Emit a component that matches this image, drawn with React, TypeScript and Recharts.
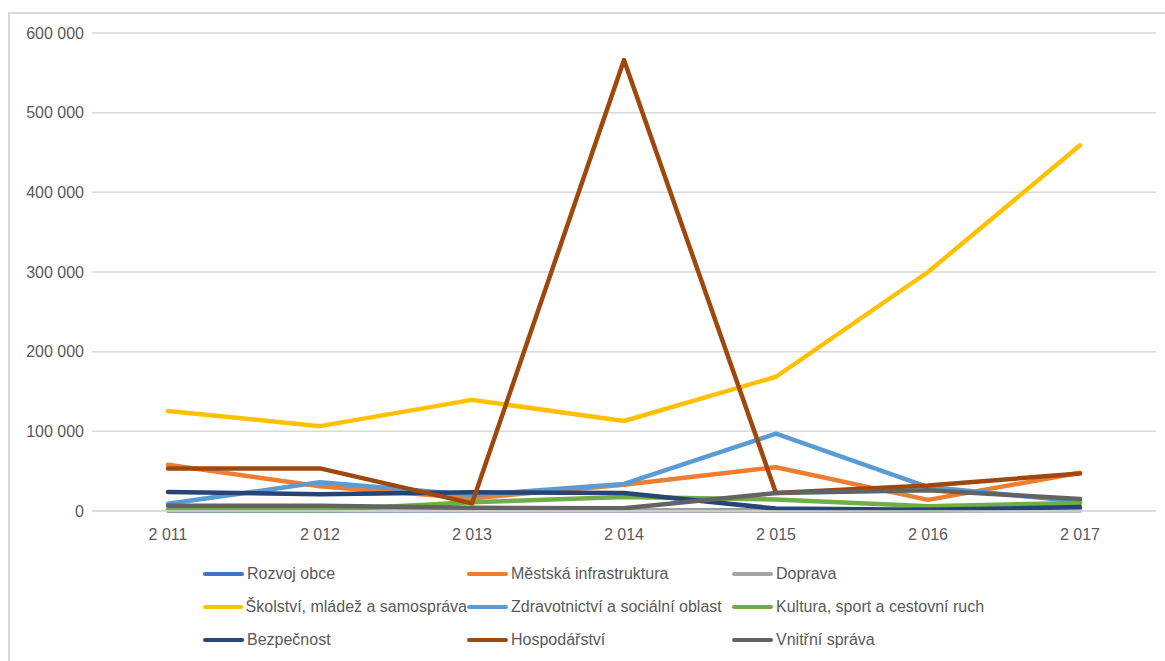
import { LineChart, Line, XAxis, YAxis, CartesianGrid } from "recharts";

const YEARS = ["2 011", "2 012", "2 013", "2 014", "2 015", "2 016", "2 017"];

const ROZVOJ_OBCE = [500, 500, 1000, 1000, 1000, 1000, 2500];
const MESTSKA_INFRA = [58000, 31000, 16000, 33000, 55000, 14000, 48000];
const DOPRAVA = [1000, 1000, 1000, 1000, 500, 500, 500];
const SKOLSTVI = [125500, 106500, 139500, 113000, 168500, 300000, 459000];
const ZDRAVOTNICTVI = [9000, 36000, 20000, 34000, 97000, 30000, 12000];
const KULTURA = [1500, 1000, 11000, 17500, 14500, 6000, 10000];
const BEZPECNOST = [24000, 21000, 23500, 22500, 3000, 1500, 5000];
const HOSPODARSTVI = [53500, 53500, 9500, 566000, 22500, 32000, 47000];
const VNITRNI_SPRAVA = [6500, 6500, 4000, 3500, 22500, 26000, 15000];

const Y_TICKS = [0, 100000, 200000, 300000, 400000, 500000, 600000];

const SERIES = [
  { key: "rozvoj", name: "Rozvoj obce", color: "#4472C4", values: ROZVOJ_OBCE },
  { key: "mestska", name: "Městská infrastruktura", color: "#ED7D31", values: MESTSKA_INFRA },
  { key: "doprava", name: "Doprava", color: "#A5A5A5", values: DOPRAVA },
  { key: "skolstvi", name: "Školství, mládež a samospráva", color: "#FFC000", values: SKOLSTVI },
  { key: "zdravotnictvi", name: "Zdravotnictví a sociální oblast", color: "#5B9BD5", values: ZDRAVOTNICTVI },
  { key: "kultura", name: "Kultura, sport a cestovní ruch", color: "#70AD47", values: KULTURA },
  { key: "bezpecnost", name: "Bezpečnost", color: "#264478", values: BEZPECNOST },
  { key: "hospodarstvi", name: "Hospodářství", color: "#9E480E", values: HOSPODARSTVI },
  { key: "vnitrni", name: "Vnitřní správa", color: "#636363", values: VNITRNI_SPRAVA },
];

const data = YEARS.map((year, i) => {
  const row: Record<string, string | number> = { year };
  SERIES.forEach((s) => {
    row[s.key] = s.values[i];
  });
  return row;
});

const FONT = '"Liberation Sans", Arial, sans-serif';
const TEXT = "#595959";

// thousands separated by a space: 600000 -> "600 000"
const fmt = (v: number) => String(v).replace(/\B(?=(\d{3})+(?!\d))/g, " ");

function Legend() {
  return (
    <div
      style={{
        position: "absolute",
        left: 203,
        top: 557,
        display: "grid",
        gridTemplateColumns: "264px 265px 264px",
        gridAutoRows: "33px",
        fontFamily: FONT,
        fontSize: 16,
        color: TEXT,
      }}
    >
      {SERIES.map((s) => (
        <div key={s.key} style={{ display: "flex", alignItems: "center", whiteSpace: "nowrap" }}>
          <span
            style={{
              display: "inline-block",
              width: 41,
              height: 4,
              borderRadius: 2,
              background: s.color,
              marginRight: 3,
            }}
          />
          <span>{s.name}</span>
        </div>
      ))}
    </div>
  );
}

export default function App() {
  return (
    <div style={{ position: "fixed", left: 0, top: 0, width: 1165, height: 661, background: "#fff", overflow: "hidden" }}>
      <div
        style={{
          position: "absolute",
          left: 8,
          top: 12,
          width: 1200,
          height: 700,
          border: "2px solid #d9d9d9",
          boxSizing: "border-box",
        }}
      />
      <div style={{ position: "absolute", left: 0, top: 0 }}>
        <LineChart width={1165} height={661} data={data} margin={{ top: 33, right: 9, left: 0, bottom: 120 }}>
          <CartesianGrid vertical={false} stroke="#d9d9d9" strokeWidth={1.5} />
          <XAxis
            dataKey="year"
            height={30}
            padding={{ left: 76, right: 76 }}
            axisLine={{ stroke: "#d9d9d9", strokeWidth: 1.5 }}
            tickLine={false}
            tickMargin={12}
            tick={{ fill: TEXT, fontSize: 16, fontFamily: FONT }}
          />
          <YAxis
            width={92}
            domain={[0, 600000]}
            ticks={Y_TICKS}
            axisLine={false}
            tickLine={false}
            tickFormatter={fmt}
            tick={{ fill: TEXT, fontSize: 16, fontFamily: FONT }}
          />
          {SERIES.map((s) => (
            <Line
              key={s.key}
              type="linear"
              dataKey={s.key}
              name={s.name}
              stroke={s.color}
              strokeWidth={4.5}
              strokeLinejoin="round"
              strokeLinecap="round"
              dot={false}
              activeDot={false}
              isAnimationActive={false}
            />
          ))}
        </LineChart>
      </div>
      <Legend />
    </div>
  );
}
